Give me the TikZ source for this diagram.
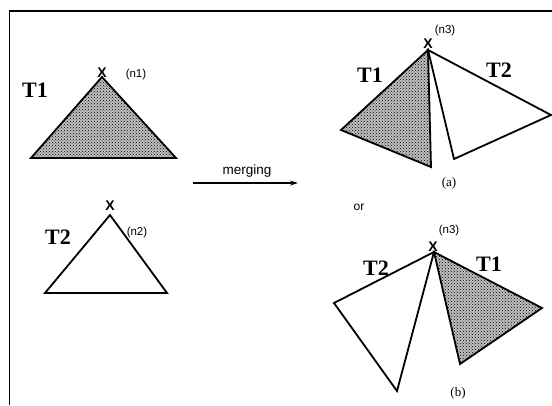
\documentclass[tikz,border=0pt]{standalone}
\usepackage{fontspec}
\setmainfont{Liberation Serif}
\setsansfont{Liberation Sans}
\usetikzlibrary{patterns,arrows.meta}
\begin{document}
\begin{tikzpicture}[x=1pt,y=-1pt,
  tri/.style={draw=black,line width=1.8pt,line join=miter},
  shaded/.style={tri,preaction={fill=black!25},pattern=crosshatch dots,pattern color=black},
  tlabel/.style={font=\fontsize{22}{22}\selectfont\bfseries},
  nlabel/.style={font=\sffamily\fontsize{11.5}{11.5}\selectfont},
  xmark/.style={font=\sffamily\bfseries\fontsize{14}{14}\selectfont,inner sep=0pt},
  caption/.style={font=\fontsize{13}{13}\selectfont}]
\useasboundingbox (0,0) rectangle (552,405);
% frame
\draw[line width=1.4pt] (552,11) -- (9.5,11) -- (9.5,405);
% T1 (top left)
\coordinate (a1) at (102,77);
\coordinate (b1) at (31,158);
\coordinate (c1) at (176,158);
\draw[shaded] (a1) -- (b1) -- (c1) -- cycle;
\node[xmark] (x1) at (102,73) {X};
\node[tlabel] (t1) at (35,90) {T1};
\node[nlabel] (n1) at (136,75) {(n1)};
% T2 (bottom left)
\coordinate (a2) at (110,215);
\coordinate (b2) at (45,293);
\coordinate (c2) at (167,293);
\draw[tri] (a2) -- (b2) -- (c2) -- cycle;
\node[xmark] (x2) at (110,206) {X};
\node[tlabel] (t2) at (58,237) {T2};
\node[nlabel] (n2) at (137,233) {(n2)};
% arrow
\coordinate (ms) at (193,183);
\coordinate (me) at (298,183);
\draw[line width=1.1pt,-{Stealth[length=8pt,width=5pt]}] (ms) -- (me);
\node[font=\sffamily\fontsize{13.5}{13.5}\selectfont] (merge) at (247,171) {merging};
% (a)
\coordinate (pa) at (428,50);
\coordinate (la) at (341,130);
\coordinate (ba) at (431,167);
\coordinate (qa) at (454,159);
\coordinate (ra) at (551,115);
\draw[shaded] (pa) -- (la) -- (ba) -- cycle;
\draw[tri] (pa) -- (qa) -- (ra) -- cycle;
\node[xmark] (xa) at (428,44) {X};
\node[nlabel] (n3a) at (445,31) {(n3)};
\node[tlabel] (t1a) at (370,75) {T1};
\node[tlabel] (t2a) at (499,70) {T2};
\node[caption] (capa) at (449,183) {(a)};
\node[font=\sffamily\fontsize{12}{12}\selectfont] (or) at (359,207) {or};
% (b)
\coordinate (pb) at (434,252);
\coordinate (lb) at (334,303);
\coordinate (bb) at (397,391);
\coordinate (rb) at (542,308);
\coordinate (db) at (460,364);
\draw[tri] (pb) -- (lb) -- (bb) -- cycle;
\draw[shaded] (pb) -- (rb) -- (db) -- cycle;
\node[xmark] (xb) at (433,247) {X};
\node[nlabel] (n3b) at (449,231) {(n3)};
\node[tlabel] (t2b) at (376,268) {T2};
\node[tlabel] (t1b) at (489,264) {T1};
\node[caption] (capb) at (458,393) {(b)};
\end{tikzpicture}
\end{document}
